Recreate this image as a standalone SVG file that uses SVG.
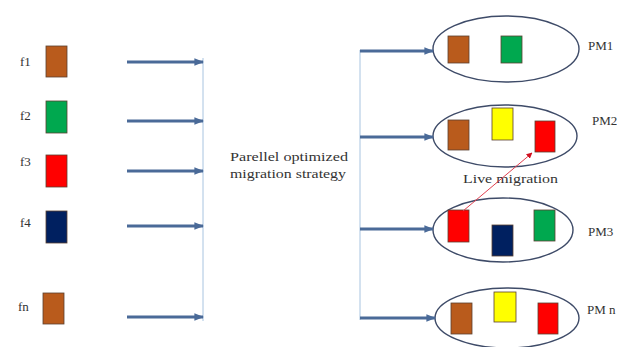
<svg xmlns="http://www.w3.org/2000/svg" width="617" height="347" viewBox="0 0 617 347">
<defs>
<marker id="ah" viewBox="0 0 10 10" refX="9" refY="5" markerWidth="3.2" markerHeight="3.2" orient="auto" markerUnits="strokeWidth">
<path d="M0,1 L10,5 L0,9 Z" fill="#4a6a98"/>
</marker>
<marker id="rh" viewBox="0 0 10 10" refX="9" refY="5" markerWidth="6" markerHeight="6" orient="auto" markerUnits="strokeWidth">
<path d="M0,0 L10,5 L0,10 Z" fill="#d01020"/>
</marker>
</defs>
<style>
text{font-family:"Liberation Serif","DejaVu Serif",serif;fill:#333;font-size:13px}
.arr{stroke:#4a6a98;stroke-width:3;fill:none;marker-end:url(#ah)}
.vl{stroke:#a8c4e0;stroke-width:1;fill:none}
.pm{fill:none;stroke:#3e4b68;stroke-width:1.4}
.b{stroke:#5a4030;stroke-width:0.8}
.br{fill:#b95b1c}
.gr{fill:#00a84f}
.rd{fill:#ff0000}
.nv{fill:#002060}
.yl{fill:#ffff00}
</style>
<rect width="617" height="347" fill="#ffffff"/>

<g id="f1"><text x="20" y="66">f1</text><rect class="b br" x="46" y="46" width="21" height="31"/></g>
<g id="f2"><text x="20" y="120">f2</text><rect class="b gr" x="46" y="101" width="21" height="32"/></g>
<g id="f3"><text x="20" y="166">f3</text><rect class="b rd" x="46" y="155" width="21" height="32"/></g>
<g id="f4"><text x="20" y="227">f4</text><rect class="b nv" x="46" y="211" width="21" height="32"/></g>
<g id="fn"><text x="18" y="311">fn</text><rect class="b br" x="43" y="293" width="21" height="31"/></g>

<g id="strategy">
<text x="230" y="161" textLength="118" lengthAdjust="spacingAndGlyphs">Parellel optimized</text>
<text x="230" y="178" textLength="116" lengthAdjust="spacingAndGlyphs">migration strategy</text>
</g>

<g id="pm1">
<ellipse class="pm" cx="506" cy="49" rx="73" ry="33"/>
<rect class="b br" x="448" y="36" width="21" height="27"/>
<rect class="b gr" x="501" y="36" width="21" height="27"/>
<text x="588" y="50">PM1</text>
</g>
<g id="pm2">
<ellipse class="pm" cx="505" cy="136" rx="72" ry="31"/>
<rect class="b br" x="448" y="120" width="21" height="30"/>
<rect class="b yl" x="492" y="108" width="21" height="32"/>
<rect class="b rd" x="535" y="121" width="20" height="31"/>
<text x="592" y="125">PM2</text>
</g>
<g id="pm3">
<ellipse class="pm" cx="503" cy="230" rx="70" ry="32"/>
<rect class="b rd" x="448" y="210" width="21" height="32"/>
<rect class="b nv" x="492" y="225" width="21" height="31"/>
<rect class="b gr" x="534" y="210" width="21" height="31"/>
<text x="588" y="236">PM3</text>
</g>
<g id="pmn">
<ellipse class="pm" cx="507" cy="318" rx="72" ry="30"/>
<rect class="b br" x="451" y="303" width="21" height="31"/>
<rect class="b yl" x="494" y="292" width="22" height="30"/>
<rect class="b rd" x="538" y="303" width="20" height="31"/>
<text x="587" y="314">PM n</text>
</g>
<g id="live"><text x="463" y="183" textLength="95" lengthAdjust="spacingAndGlyphs">Live migration</text></g>

<g id="connectors">
<line class="vl" x1="203" y1="58" x2="203" y2="321"/>
<line class="vl" x1="360" y1="50" x2="360" y2="320"/>
<line class="arr" x1="127" y1="62" x2="203" y2="62"/>
<line class="arr" x1="127" y1="121" x2="203" y2="121"/>
<line class="arr" x1="127" y1="171" x2="203" y2="171"/>
<line class="arr" x1="127" y1="226" x2="203" y2="226"/>
<line class="arr" x1="127" y1="317" x2="203" y2="317"/>
<line class="arr" x1="360" y1="51" x2="433" y2="51"/>
<line class="arr" x1="360" y1="137" x2="433" y2="137"/>
<line class="arr" x1="360" y1="229" x2="433" y2="229"/>
<line class="arr" x1="360" y1="318" x2="435" y2="318"/>
<line x1="463" y1="211" x2="532" y2="153" stroke="#e04050" stroke-width="1" marker-end="url(#rh)"/>
</g>
</svg>
